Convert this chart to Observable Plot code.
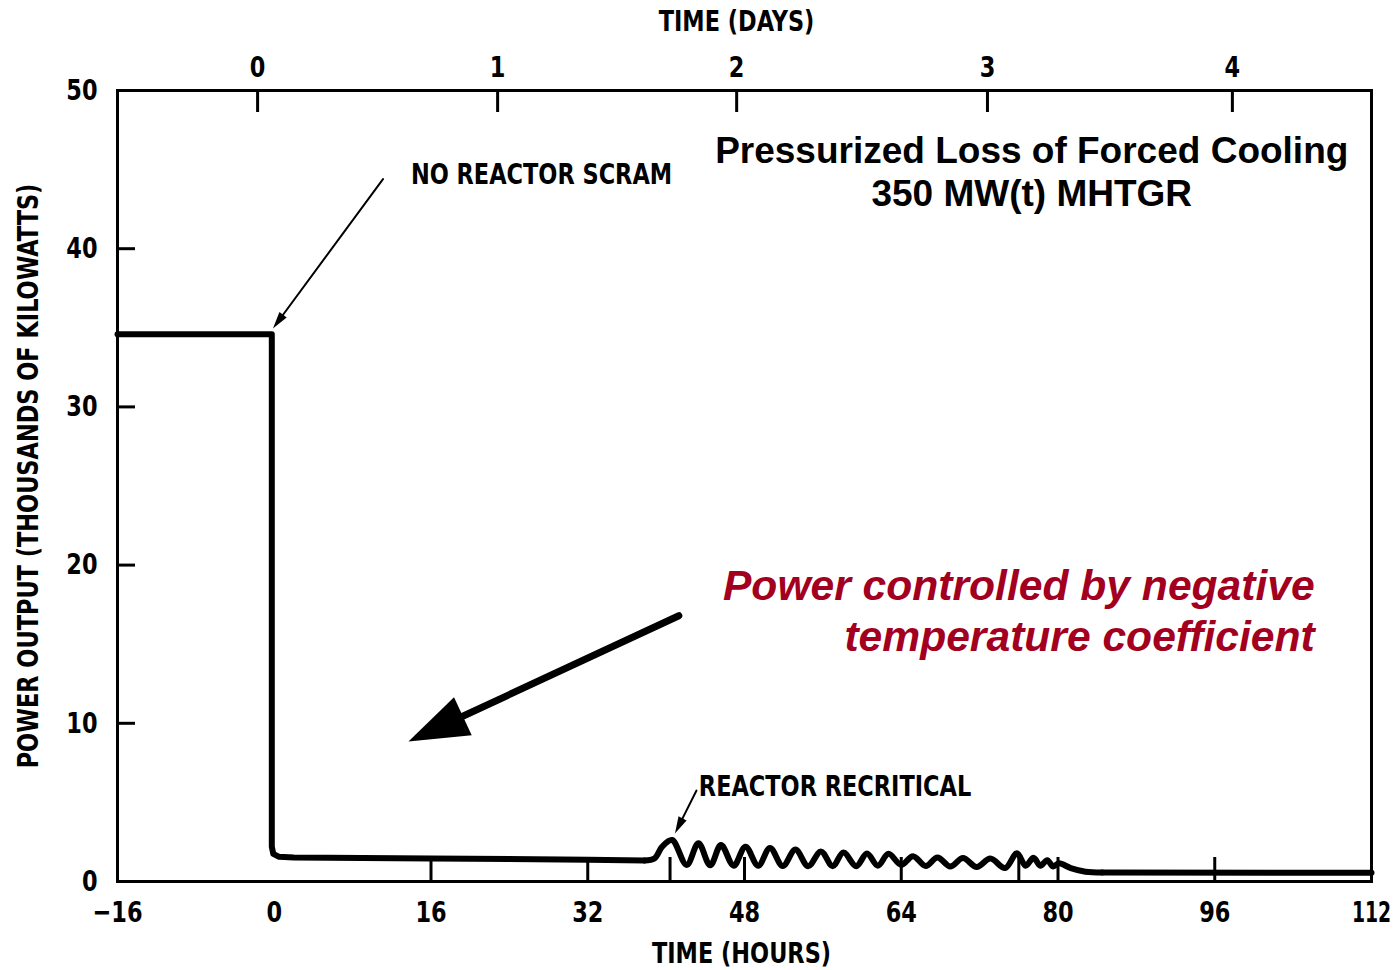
<!DOCTYPE html>
<html><head><meta charset="utf-8">
<script src="https://cdn.jsdelivr.net/npm/d3@7"></script>
<script src="https://cdn.jsdelivr.net/npm/@observablehq/plot@0.6"></script>
<style>body{margin:0;background:#fff}#chart svg{display:block}</style>
</head><body><div id="chart"></div>
<script>
// ---------- data ----------
const xDomain = [-16, 112];
const yDomain = [0, 50];
const hourTicks = [-16, 0, 16, 32, 48, 64, 80, 96, 112];
const bottomTickHours = [16, 32, 40.4, 48, 64, 76, 80, 96];
const powerTicks = [0, 10, 20, 30, 40, 50];
const dayLabels = ["0", "1", "2", "3", "4"];
const dayTickHours = [-1.7, 22.8, 47.2, 72.8, 97.8];

// power before & just after the (unscrammed) loss of forced cooling
const stepHours = [-16, -0.25, -0.25, -0.1, 0.5, 2, 16, 32, 37.8];
const stepPower = [34.6, 34.6, 2.2, 1.75, 1.56, 1.52, 1.46, 1.38, 1.33];
// recriticality oscillations
const waveHours = [37.8, 38.8, 39.6, 40.6, 42.1, 43.3, 44.5, 45.6, 46.9, 48.1, 49.4, 50.6, 51.9, 53.2, 54.5, 55.8, 57.0, 58.1, 59.4, 60.5, 61.6, 62.7, 64.0, 65.2, 66.5, 67.7, 69.0, 70.3, 71.7, 73.1, 74.6, 75.8, 76.7, 77.5, 78.2, 78.9, 79.5, 80.1, 81.3, 82.8, 84.5];
const wavePower = [1.33, 1.45, 2.2, 2.62, 1.05, 2.42, 1.02, 2.3, 1.0, 2.2, 1.0, 2.12, 0.98, 2.02, 0.97, 1.9, 0.97, 1.83, 0.97, 1.77, 1.0, 1.75, 1.05, 1.6, 0.98, 1.52, 0.95, 1.48, 0.92, 1.45, 0.85, 1.78, 1.0, 1.5, 1.0, 1.35, 0.95, 1.15, 0.85, 0.62, 0.57];
// settled tail
const tailHours = [84.5, 112];
const tailPower = [0.57, 0.55];

// annotations
const noteLabels = ["NO REACTOR SCRAM", "REACTOR RECRITICAL"];
const noteHours = [13.95, 43.34];
const notePower = [44.69, 6.0];
const pointerX1 = [11.1, 43.1];
const pointerY1 = [44.4, 5.75];
const pointerX2 = [-0.13, 40.9];
const pointerY2 = [34.96, 3.03];
const bigArrowX = [41.3, 13.7];
const bigArrowY = [16.8, 8.85];
const titleLines = ["Pressurized Loss of Forced Cooling", "350 MW(t) MHTGR"];
const titleHour = 77.32, titlePower = 44.91;
const redLines = ["Power controlled by negative", "temperature coefficient"];
const redHour = 106.2, redPower = 17.2;

// ---------- layout ----------
const W = 1398, H = 970;
const mL = 117, mR = 27, mT = 90, mB = 89;
const innerW = W - mL - mR, innerH = H - mT - mB;
const kx = innerW / (xDomain[1] - xDomain[0]);
const ky = innerH / (yDomain[1] - yDomain[0]);
const angleOf = (x1, y1, x2, y2) => Math.atan2((x2 - x1) * kx, (y2 - y1) * ky) * 180 / Math.PI;
const headSymbol = (len, half) => ({
  draw(ctx) { ctx.moveTo(0, 0); ctx.lineTo(half, len); ctx.lineTo(-half, len); ctx.closePath(); }
});
const pointerAngles = pointerX1.map((_, i) => angleOf(pointerX1[i], pointerY1[i], pointerX2[i], pointerY2[i]));
const bigAngle = angleOf(bigArrowX[0], bigArrowY[0], bigArrowX[1], bigArrowY[1]);

const COND = "'Liberation Sans Narrow', 'DejaVu Sans Condensed', 'DejaVu Sans', sans-serif";
const SANS = "'Liberation Sans', Arial, sans-serif";
const LBL = 29;      // condensed label size
const SQUEEZE = 0.86; // horizontal condensation of label text
const SQUEEZE_NARROW_ONES = 0.72; // "1" is a narrow glyph in the original lettering

const lbl = {fontSize: LBL, fontWeight: "bold", fontFamily: COND};

const chart = Plot.plot({
  width: W, height: H,
  marginLeft: mL, marginRight: mR, marginTop: mT, marginBottom: mB,
  style: {fontFamily: COND, color: "#000", background: "#fff"},
  x: {domain: xDomain},
  y: {domain: yDomain},
  marks: [
    Plot.frame({stroke: "#000", strokeWidth: 3}),
    Plot.ruleY(powerTicks.filter(v => v > 0 && v < 50), {insetRight: innerW - 18, strokeWidth: 3}),
    Plot.ruleX(bottomTickHours, {insetTop: innerH - 24, strokeWidth: 3}),
    Plot.ruleX(dayTickHours, {insetBottom: innerH - 22, strokeWidth: 3}),
    Plot.axisX({ticks: hourTicks, tickSize: 0, tickPadding: 20, label: null, ...lbl}),
    Plot.axisY({ticks: powerTicks, tickSize: 0, tickPadding: 20, label: null, ...lbl}),
    Plot.text(dayLabels, {x: dayTickHours, text: d => d, frameAnchor: "top", dy: -14, lineAnchor: "bottom", ...lbl}),
    Plot.text(["TIME (DAYS)"], {frameAnchor: "top", textAnchor: "middle", dx: -8, dy: -69, lineAnchor: "middle", ...lbl}),
    Plot.text(["TIME (HOURS)"], {frameAnchor: "bottom", textAnchor: "middle", dx: -3, dy: 72, lineAnchor: "middle", ...lbl}),
    Plot.text(["POWER OUTPUT (THOUSANDS OF KILOWATTS)"], {frameAnchor: "left", textAnchor: "middle", dx: -89, dy: -10, rotate: -90, lineAnchor: "middle", ...lbl}),

    Plot.line(stepHours, {x: stepHours, y: stepPower, stroke: "#000", strokeWidth: 6, strokeLinejoin: "round", strokeLinecap: "round"}),
    Plot.line(waveHours, {x: waveHours, y: wavePower, curve: "catmull-rom", stroke: "#000", strokeWidth: 6, strokeLinejoin: "round", strokeLinecap: "round"}),
    Plot.line(tailHours, {x: tailHours, y: tailPower, stroke: "#000", strokeWidth: 6, strokeLinecap: "round"}),

    Plot.arrow(noteLabels, {x1: pointerX1, y1: pointerY1, x2: pointerX2, y2: pointerY2, stroke: "#000", strokeWidth: 2, headLength: 0, insetEnd: 8}),
    Plot.dot(noteLabels, {x: pointerX2, y: pointerY2, symbol: headSymbol(17, 4.5), rotate: pointerAngles, fill: "#000", stroke: null, r: 1}),
    Plot.text(noteLabels, {x: noteHours, y: notePower, text: d => d, textAnchor: "start", lineAnchor: "middle", ...lbl}),

    Plot.arrow([0], {x1: bigArrowX[0], y1: bigArrowY[0], x2: bigArrowX[1], y2: bigArrowY[1], stroke: "#000", strokeWidth: 7, headLength: 0, insetEnd: 45}),
    Plot.dot([0], {x: [bigArrowX[1]], y: [bigArrowY[1]], symbol: headSymbol(60, 21), rotate: bigAngle, fill: "#000", stroke: null, r: 1}),

    Plot.text([titleLines.join("\n")], {x: titleHour, y: titlePower, textAnchor: "middle", lineAnchor: "middle", lineHeight: 1.16, fontSize: 37, fontWeight: "bold", fontFamily: SANS}),
    Plot.text([redLines.join("\n")], {x: redHour, y: redPower, textAnchor: "end", lineAnchor: "middle", lineHeight: 1.2, fontSize: 42.6, fontWeight: "bold", fontStyle: "italic", fontFamily: SANS, fill: "#a3001f"})
  ]
});
document.getElementById("chart").appendChild(chart);

// condense the narrow-gothic labels (no condensed face is installed)
chart.querySelectorAll("text").forEach(el => {
  if (getComputedStyle(el).fontSize === LBL + "px" && !el.querySelector("tspan")) {
    const len = el.getComputedTextLength();
    const t = el.textContent.trim();
    const f = /^[0-9]+$/.test(t) && (t.match(/1/g) || []).length >= 2 ? SQUEEZE_NARROW_ONES : SQUEEZE;
    if (len > 0) {
      el.setAttribute("textLength", (len * f).toFixed(1));
      el.setAttribute("lengthAdjust", "spacingAndGlyphs");
    }
  }
});
</script>
</body></html>
